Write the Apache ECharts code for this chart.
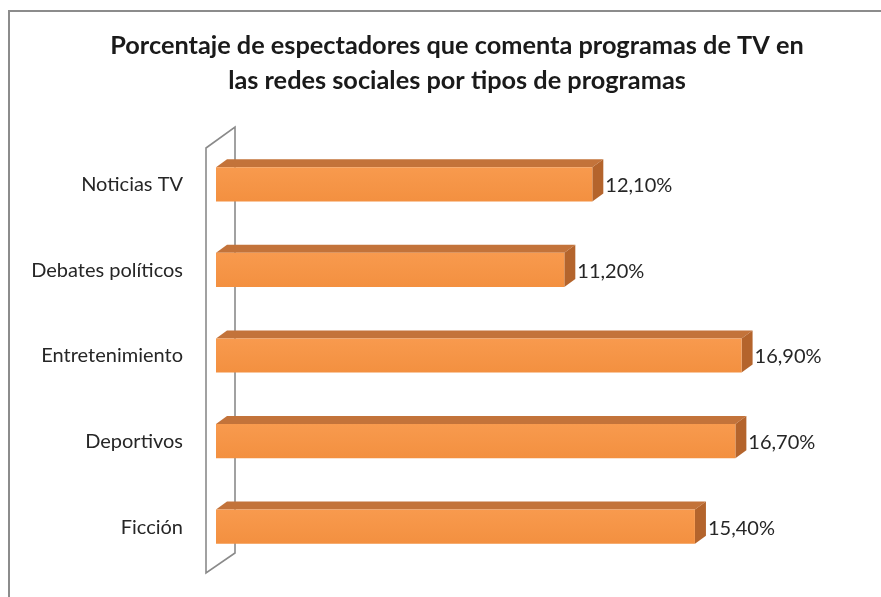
<!DOCTYPE html>
<html>
<head>
<meta charset="utf-8">
<script src="https://cdn.jsdelivr.net/npm/echarts@6/dist/echarts.min.js"></script>
<style>html,body{margin:0;padding:0;background:#fff}#c{width:881px;height:597px}</style>
</head>
<body>
<div id="c"></div>
<script>
var titleLines = ['Porcentaje de espectadores que comenta programas de TV en', 'las redes sociales por tipos de programas'];
var categories = ['Noticias TV', 'Debates políticos', 'Entretenimiento', 'Deportivos', 'Ficción'];
var values = [12.1, 11.2, 16.9, 16.7, 15.4];

var FONT = 'Lato, "Open Sans", sans-serif';
var DX = 11, DY = 8;

function fmt(v) { return v.toFixed(2).replace('.', ',') + '%'; }

var chart = echarts.init(document.getElementById('c'), null, {renderer: 'canvas'});
chart.setOption({
  backgroundColor: '#ffffff',
  animation: false,
  title: {
    text: titleLines.join('\n'),
    left: 452, top: 23, textAlign: 'center',
    textStyle: {fontFamily: FONT, fontWeight: 'bold', fontSize: 25.3, lineHeight: 35, color: '#1a1a1a'}
  },
  graphic: [{
    type: 'rect', shape: {x: 9, y: 11, width: 900, height: 620},
    style: {fill: 'none', stroke: '#8c8c8c', lineWidth: 2}, silent: true, z: -10
  }],
  grid: {left: 216, right: 43, top: 142, bottom: 27},
  xAxis: {type: 'value', min: 0, max: 20, show: false},
  yAxis: {
    type: 'category', data: categories, inverse: true,
    axisLine: {show: false}, axisTick: {show: false}, splitLine: {show: false},
    axisLabel: {margin: 33, fontFamily: FONT, fontSize: 20, color: '#262626'}
  },
  series: [{
    type: 'custom',
    data: [0],
    silent: true,
    z: 1,
    renderItem: function (params, api) {
      var cs = params.coordSys;
      var fx = cs.x - 10, fy1 = cs.y + 6, fy2 = cs.y + cs.height + 3;
      var bx = fx + 29, by1 = fy1 - 21, by2 = fy2 - 20;
      return {
        type: 'polygon',
        shape: {points: [[fx, fy1], [bx, by1], [bx, by2], [fx, fy2]]},
        style: {fill: '#ffffff', stroke: '#8a8a8a', lineWidth: 1.6}
      };
    }
  }, {
    type: 'custom',
    data: values.map(function (v, i) { return [v, i]; }),
    encode: {x: 0, y: 1},
    z: 2,
    renderItem: function (params, api) {
      var v = api.value(0), ci = api.value(1);
      var p0 = api.coord([0, ci]);
      var p1 = api.coord([v, ci]);
      var band = api.size([0, 1])[1];
      var h = band * 0.4;
      var top = p0[1] - h / 2 - 0.5, bot = p0[1] + h / 2 - 0.5;
      var x0 = p0[0], x1 = p1[0];
      return {
        type: 'group',
        children: [{
          type: 'polygon',
          shape: {points: [[x0, top], [x0 + DX, top - DY], [x1 + DX, top - DY], [x1, top]]},
          style: {fill: '#c3733a'}
        }, {
          type: 'polygon',
          shape: {points: [[x1, top], [x1 + DX, top - DY], [x1 + DX, bot - DY], [x1, bot]]},
          style: {fill: '#b4642c'}
        }, {
          type: 'rect',
          shape: {x: x0, y: top, width: x1 - x0, height: bot - top},
          style: {fill: new echarts.graphic.LinearGradient(0, 0, 0, 1, [
            {offset: 0, color: '#f89a4e'}, {offset: 1, color: '#f39040'}])}
        }, {
          type: 'text',
          style: {
            x: x1 + DX + 2, y: p0[1] + 1, text: fmt(v),
            fontFamily: FONT, fontSize: 20, fill: '#262626',
            textVerticalAlign: 'middle', verticalAlign: 'middle'
          }
        }]
      };
    }
  }]
});
</script>
</body>
</html>
